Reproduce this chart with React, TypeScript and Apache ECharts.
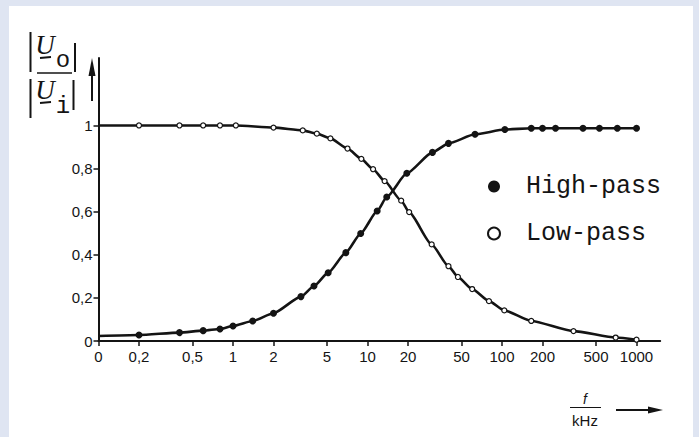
import React, { useEffect, useRef } from 'react';
import * as echarts from 'echarts';

// Tick positions (kHz) and their printed labels; "0" sits at the left end of the log axis
const xTickValues = [0.1, 0.2, 0.5, 1, 2, 5, 10, 20, 50, 100, 200, 500, 1000];
const xTickLabels = ['0', '0,2', '0,5', '1', '2', '5', '10', '20', '50', '100', '200', '500', '1000'];
const yTickValues = [0, 0.2, 0.4, 0.6, 0.8, 1];
const yTickLabels = ['0', '0,2', '0,4', '0,6', '0,8', '1'];

// High-pass curve (filled dots); first point is the curve start at the axis, without a dot
const highFreq = [0.1, 0.2, 0.4, 0.6, 0.8, 1, 1.4, 2, 3.2, 4, 5.1, 6.9, 8.9, 11.8, 13.9, 19.6, 30.4, 40, 63, 105, 165, 200, 250, 400, 530, 720, 1000];
const highVals = [0.023, 0.028, 0.039, 0.048, 0.056, 0.07, 0.093, 0.129, 0.206, 0.255, 0.317, 0.41, 0.499, 0.603, 0.668, 0.778, 0.875, 0.917, 0.959, 0.981, 0.987, 0.987, 0.987, 0.987, 0.987, 0.987, 0.987];

// Low-pass curve (open circles); first point is the curve start at the axis, without a circle
const lowFreq = [0.1, 0.2, 0.4, 0.6, 0.8, 1.05, 2, 3.3, 4.2, 5.3, 7.1, 9, 11, 13.4, 17.8, 20.4, 30, 40, 47, 60, 80, 104, 165, 340, 700, 1000];
const lowVals = [1, 1, 1, 1, 1, 1, 0.99, 0.977, 0.962, 0.94, 0.893, 0.845, 0.797, 0.742, 0.651, 0.598, 0.448, 0.347, 0.297, 0.241, 0.185, 0.142, 0.093, 0.046, 0.016, 0.006];

const INK = '#141414';

function lookupLabel(v: number, vals: number[], labels: string[], log: boolean) {
  for (let i = 0; i < vals.length; i++) {
    const a = log ? Math.log10(vals[i]) : vals[i];
    const b = log ? Math.log10(v) : v;
    if (Math.abs(a - b) < 1e-6) return labels[i];
  }
  return '';
}

export default function App() {
  const ref = useRef<HTMLDivElement>(null);

  useEffect(() => {
    if (!ref.current) return;
    const chart = echarts.init(ref.current, undefined, { renderer: 'svg' });

    const line = (x1: number, y1: number, x2: number, y2: number, w = 2) => ({
      type: 'line',
      shape: { x1, y1, x2, y2 },
      style: { stroke: INK, lineWidth: w },
      silent: true,
    });

    chart.setOption({
      animation: false,
      backgroundColor: '#dfe5f2',
      grid: { left: 98.5, right: 38.8, top: 58, bottom: 96, containLabel: false },
      xAxis: {
        type: 'log',
        logBase: 10,
        min: 0.1,
        max: 1500,
        axisLine: { show: true, onZero: false, lineStyle: { color: INK, width: 2 } },
        axisTick: { show: true, length: 5, inside: false, customValues: xTickValues, lineStyle: { color: INK, width: 1.5 } },
        minorTick: { show: false },
        splitLine: { show: false },
        axisLabel: {
          customValues: xTickValues,
          margin: 8,
          color: INK,
          fontSize: 15,
          fontFamily: 'Liberation Sans',
          formatter: (v: number) => lookupLabel(v, xTickValues, xTickLabels, true),
        },
      },
      yAxis: {
        type: 'value',
        min: 0,
        max: 1.313,
        axisLine: { show: true, onZero: false, lineStyle: { color: INK, width: 2 } },
        axisTick: { show: true, length: 5, inside: false, customValues: yTickValues, lineStyle: { color: INK, width: 1.5 } },
        splitLine: { show: false },
        axisLabel: {
          customValues: yTickValues,
          margin: 6,
          color: INK,
          fontSize: 15,
          fontFamily: 'Liberation Sans',
          formatter: (v: number) => lookupLabel(v, yTickValues, yTickLabels, false),
        },
      },
      legend: {
        orient: 'vertical',
        left: 482,
        top: 169,
        itemWidth: 12,
        itemHeight: 12,
        itemGap: 22,
        selectedMode: false,
        data: [
          { name: 'High-pass', icon: 'circle', itemStyle: { color: INK, borderWidth: 0 } },
          { name: 'Low-pass', icon: 'circle', itemStyle: { color: '#fff', borderColor: INK, borderWidth: 2 } },
        ],
        textStyle: {
          fontFamily: 'Liberation Mono',
          fontSize: 25,
          lineHeight: 25,
          color: INK,
          padding: [0, 0, 0, 21],
        },
      },
      series: [
        {
          name: 'High-pass',
          type: 'line',
          smooth: 0.2,
          smoothMonotone: 'x',
          symbol: 'circle',
          symbolSize: 7,
          lineStyle: { color: INK, width: 2.6 },
          itemStyle: { color: INK },
          data: highFreq.map((f, i) => ({ value: [f, highVals[i]], symbol: i === 0 ? 'none' : 'circle' })),
          z: 3,
        },
        {
          name: 'Low-pass',
          type: 'line',
          smooth: 0.2,
          smoothMonotone: 'x',
          symbol: 'circle',
          symbolSize: 5,
          lineStyle: { color: INK, width: 2.6 },
          itemStyle: { color: '#fff', borderColor: INK, borderWidth: 1.2 },
          data: lowFreq.map((f, i) => ({ value: [f, lowVals[i]], symbol: i === 0 ? 'none' : 'circle' })),
          z: 4,
        },
      ],
      graphic: [
        { type: 'rect', shape: { x: 9, y: 6, width: 684, height: 440 }, style: { fill: '#ffffff' }, z: -100, silent: true },
        // |U_o / U_i| axis title
        line(30.5, 32, 30.5, 72),
        line(30.5, 79, 30.5, 118),
        line(75, 43, 75, 72),
        line(73.5, 80, 73.5, 110),
        line(37, 73, 72, 73, 1.5),
        { type: 'text', x: 45, y: 45, style: { text: 'U', font: 'italic 27px "Liberation Serif"', align: 'center', verticalAlign: 'middle', fill: INK }, silent: true },
        line(40, 58, 51, 57, 2),
        { type: 'text', x: 63, y: 60, style: { text: 'o', font: '24px "Liberation Mono"', align: 'center', verticalAlign: 'middle', fill: INK }, silent: true },
        { type: 'text', x: 45, y: 90, style: { text: 'U', font: 'italic 27px "Liberation Serif"', align: 'center', verticalAlign: 'middle', fill: INK }, silent: true },
        line(40, 103, 51, 102, 2),
        { type: 'text', x: 63, y: 106, style: { text: 'i', font: '24px "Liberation Mono"', align: 'center', verticalAlign: 'middle', fill: INK }, silent: true },
        // vertical arrow beside y axis
        line(92, 72, 92, 101, 2),
        { type: 'polygon', shape: { points: [[92, 58], [88.5, 76], [95.5, 76]] }, style: { fill: INK }, silent: true },
        // f / kHz and horizontal arrow
        { type: 'text', x: 585, y: 399, style: { text: 'f', font: 'italic 14px "Liberation Sans"', align: 'center', verticalAlign: 'middle', fill: INK }, silent: true },
        line(570, 407.5, 601, 407.5, 1),
        { type: 'text', x: 585, y: 420, style: { text: 'kHz', font: '15px "Liberation Sans"', align: 'center', verticalAlign: 'middle', fill: INK }, silent: true },
        line(616, 410, 652, 410, 2),
        { type: 'polygon', shape: { points: [[663, 410], [648, 406.5], [648, 413.5]] }, style: { fill: INK }, silent: true },
      ],
    });

    return () => chart.dispose();
  }, []);

  return <div ref={ref} style={{ position: 'fixed', left: 0, top: 0, width: 699, height: 437 }} />;
}
